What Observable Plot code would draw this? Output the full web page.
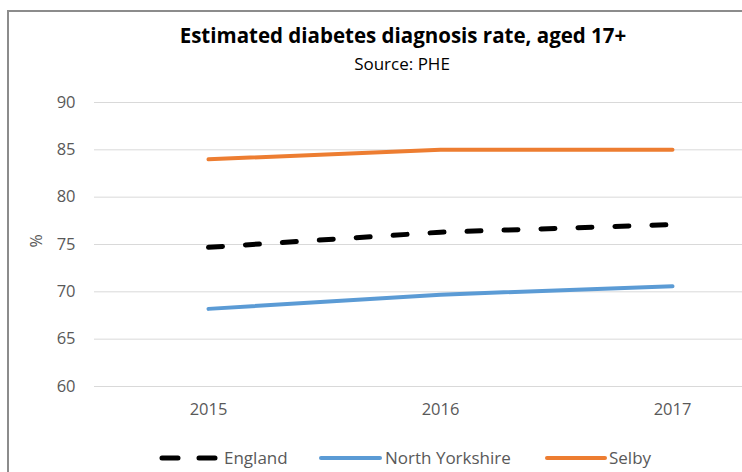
<!DOCTYPE html>
<html>
<head>
<meta charset="utf-8">
<script src="https://cdn.jsdelivr.net/npm/d3@7"></script>
<script src="https://cdn.jsdelivr.net/npm/@observablehq/plot@0.6"></script>
<style>
  html, body { margin: 0; padding: 0; background: #fff; width: 742px; height: 472px; overflow: hidden; }
  body { position: relative; font-family: "Open Sans", "Noto Sans", sans-serif; color: #595959; }
  #frame { position: absolute; left: 7px; top: 10px; width: 760px; height: 480px; border-left: 2px solid #8c8c8c; border-top: 2px solid #8c8c8c; box-sizing: border-box; }
  #title { position: absolute; left: 0; width: 806px; top: 21px; text-align: center; font-weight: bold; font-size: 20.5px; color: #000; line-height: 28px; }
  #subtitle { position: absolute; left: 0; width: 804px; top: 52px; text-align: center; font-size: 17px; color: #000; line-height: 24px; }
  #chart { position: absolute; left: 0; top: 80px; }
  #legend { position: absolute; left: 0; top: 445px; width: 742px; height: 26px; }
</style>
</head>
<body>
<div id="frame"></div>
<div id="title">Estimated diabetes diagnosis rate, aged 17+</div>
<div id="subtitle">Source: PHE</div>
<div id="chart"></div>
<div id="legend"></div>
<script>
const years = ["2015", "2016", "2017"];
const seriesNames = ["England", "North Yorkshire", "Selby"];
const england = [74.7, 76.3, 77.1];
const northYorkshire = [68.2, 69.7, 70.6];
const selby = [84.0, 85.0, 85.0];
const yTicks = [60, 65, 70, 75, 80, 85, 90];
const colors = {"England": "#000000", "North Yorkshire": "#5B9BD5", "Selby": "#ED7D31"};

const data = [];
[england, northYorkshire, selby].forEach((vals, i) => {
  vals.forEach((v, j) => data.push({series: seriesNames[i], year: years[j], value: v}));
});

const chart = Plot.plot({
  width: 742,
  height: 345,
  marginLeft: 94,
  marginRight: 0,
  marginTop: 22,
  marginBottom: 39,
  style: {fontFamily: "'Open Sans', 'Noto Sans', sans-serif", fontSize: "16.5px", color: "#595959", background: "transparent", overflow: "visible"},
  x: {type: "point", domain: years, range: [208, 672], padding: 0, label: null},
  y: {domain: [60, 90], ticks: yTicks, label: null},
  marks: [
    Plot.ruleY(yTicks, {stroke: "#d9d9d9", strokeWidth: 1}),
    Plot.axisY({ticks: yTicks, tickSize: 0, tickPadding: 19, label: null, fontSize: 16.5}),
    Plot.axisX({tickSize: 0, tickPadding: 17, label: null, fontSize: 16.5}),
    Plot.text(["%"], {frameAnchor: "left", dx: -58, rotate: -90, fontSize: 16, fill: "#595959", dy: 3}),
    Plot.line(data.filter(d => d.series === "North Yorkshire"), {x: "year", y: "value", stroke: colors["North Yorkshire"], strokeWidth: 4, strokeLinecap: "round"}),
    Plot.line(data.filter(d => d.series === "Selby"), {x: "year", y: "value", stroke: colors["Selby"], strokeWidth: 4, strokeLinecap: "round"}),
    Plot.line(data.filter(d => d.series === "England"), {x: "year", y: "value", stroke: colors["England"], strokeWidth: 5, strokeLinecap: "round", strokeDasharray: "14,23"})
  ]
});
document.getElementById("chart").appendChild(chart);

// Legend
const legendItems = [
  {name: "England", x0: 162, x1: 217, tx: 224, dash: "16,21", w: 5},
  {name: "North Yorkshire", x0: 321, x1: 380, tx: 385, dash: null, w: 4},
  {name: "Selby", x0: 547, x1: 605, tx: 609, dash: null, w: 4}
];
const svg = d3.select("#legend").append("svg").attr("width", 742).attr("height", 26);
legendItems.forEach(it => {
  const l = svg.append("line").attr("x1", it.x0).attr("x2", it.x1).attr("y1", 13).attr("y2", 13)
    .attr("stroke", colors[it.name]).attr("stroke-width", it.w).attr("stroke-linecap", "round");
  if (it.dash) l.attr("stroke-dasharray", it.dash);
  svg.append("text").attr("x", it.tx).attr("y", 13).attr("dy", "0.35em")
    .attr("font-size", 17).attr("fill", "#595959").attr("font-family", "'Open Sans', 'Noto Sans', sans-serif")
    .text(it.name);
});
</script>
</body>
</html>
